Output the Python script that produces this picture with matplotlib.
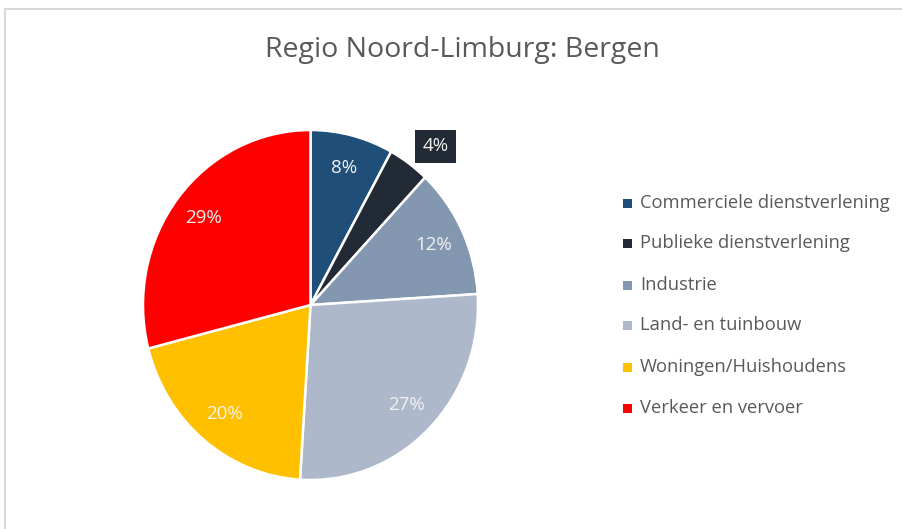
import matplotlib
matplotlib.use("Agg")
import matplotlib.pyplot as plt
import matplotlib.transforms as mtransforms
from matplotlib.patches import Rectangle
import numpy as np

categories = ["Commerciele dienstverlening", "Publieke dienstverlening", "Industrie",
              "Land- en tuinbouw", "Woningen/Huishoudens", "Verkeer en vervoer"]
values = [8, 4, 12, 27, 20, 29]
colors = ["#1F4E79", "#222A35", "#8497B0", "#ADB9CA", "#FFC000", "#FF0000"]
title = "Regio Noord-Limburg: Bergen"

W, H = 903, 529
fig = plt.figure(figsize=(W / 100, H / 100), dpi=100)
font = ["Open Sans", "DejaVu Sans"]

# background axes in pixel coordinates
bg = fig.add_axes([0, 0, 1, 1])
bg.set_xlim(0, W)
bg.set_ylim(0, H)
bg.axis("off")
bg.add_patch(Rectangle((5, -20), W + 20, H - 9 + 20, fill=False, edgecolor="#D9D9D9", lw=1.5))

# pie axes: slightly taller than wide, like the reference
cx, cy, rx, ry = 310.5, 305, 167.5, 175
pax = fig.add_axes([(cx - rx) / W, (H - cy - ry) / H, 2 * rx / W, 2 * ry / H])
wedges, texts, autotexts = pax.pie(values, colors=colors, startangle=90, counterclock=False,
                                   radius=1, autopct="%d%%", pctdistance=0.81,
                                   wedgeprops=dict(edgecolor="white", linewidth=1.8),
                                   textprops=dict(color="#F2F2F2", fontsize=13.5, family=font))
pax.set_aspect("auto")
pax.set_xlim(-1, 1)
pax.set_ylim(-1, 1)
pax.axis("off")

# outside label for the small slice
w = wedges[1]
ang = np.deg2rad((w.theta1 + w.theta2) / 2)
d = 1.17
at = autotexts[1]
at.set_position((d * np.cos(ang), d * np.sin(ang)))
at.set_transform(mtransforms.offset_copy(pax.transData, fig=fig, x=10, y=-7, units="dots"))
at.set_bbox(dict(facecolor="#222A35", edgecolor="none", boxstyle="square,pad=0.4"))

bg.text(462, H - 50, title, ha="center", va="center", fontsize=20.5, color="#595959", family=font)

ys = [203, 243, 285, 325, 367, 408]
for lab, col, y in zip(categories, colors, ys):
    bg.add_patch(Rectangle((623, H - y - 4.5), 9, 9, facecolor=col, edgecolor="none"))
    bg.text(640, H - y, lab, ha="left", va="center", fontsize=13.2, color="#595959", family=font)

fig.savefig("out.png", dpi=100)
